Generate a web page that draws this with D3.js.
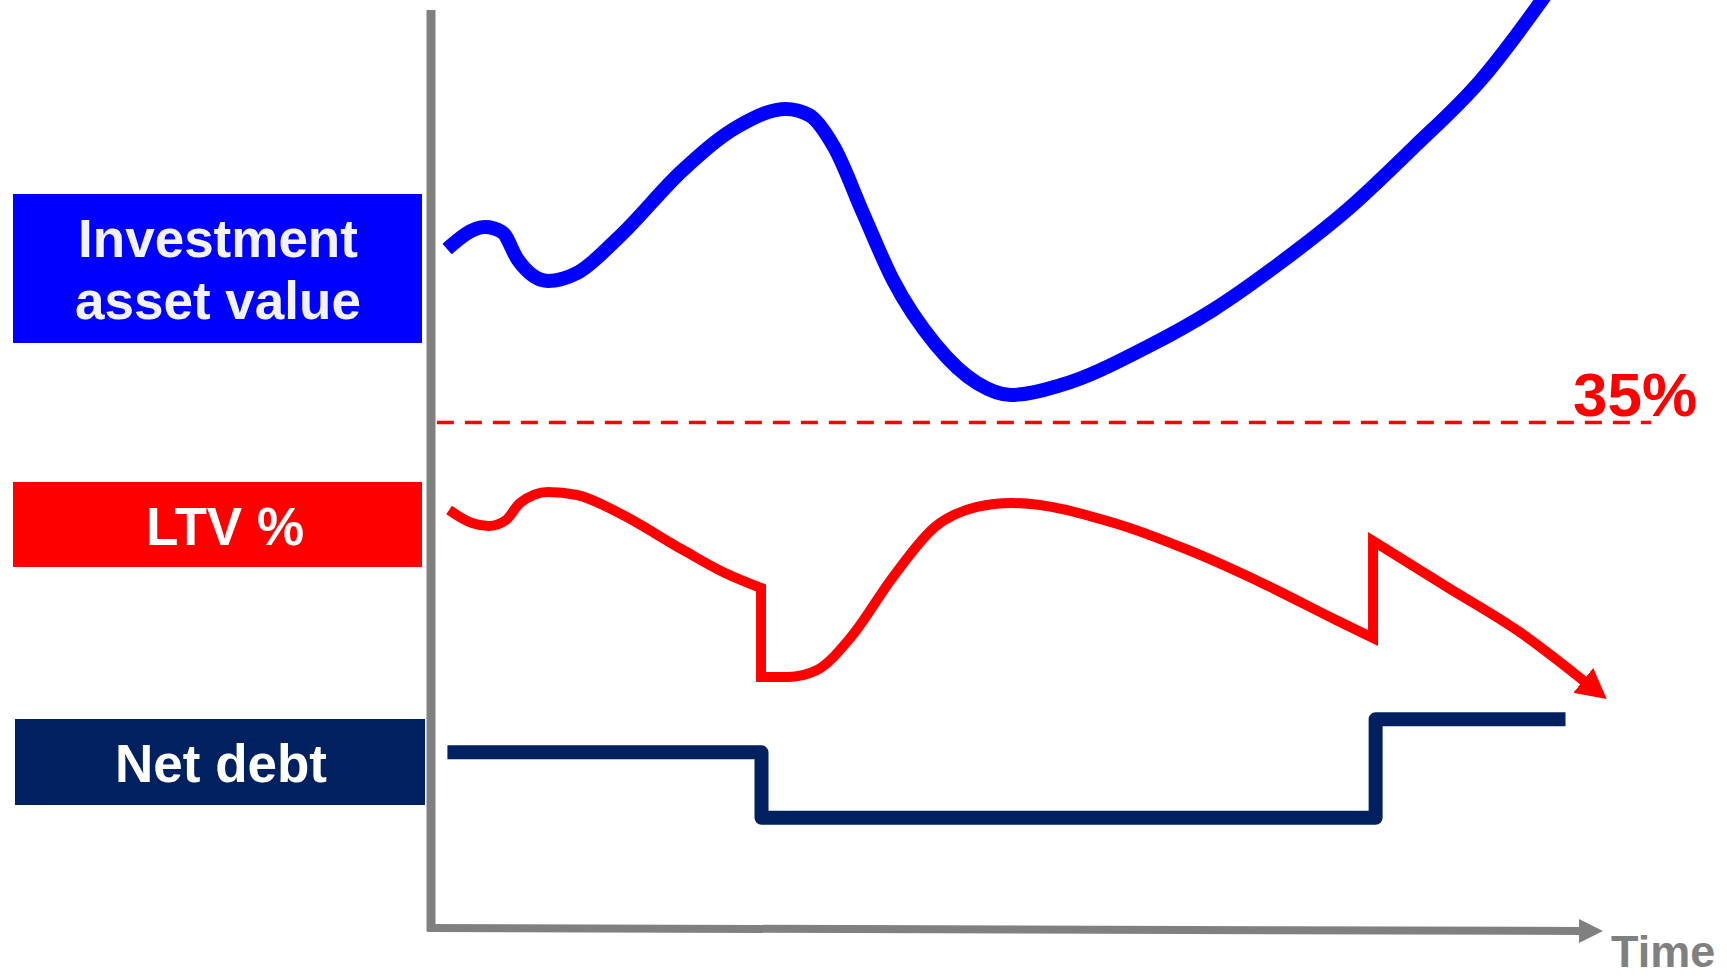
<!DOCTYPE html>
<html>
<head>
<meta charset="utf-8">
<script src="https://cdn.jsdelivr.net/npm/d3@7"></script>
<style>
  body { margin: 0; background: #fff; }
  text { font-family: "Liberation Sans", Arial, sans-serif; font-weight: bold; }
</style>
</head>
<body>
<div id="chart"></div>
<script>
// time runs 0..100 along the axis, values 0..100 up the axis
const assetT = [1.37, 4.61, 6.06, 7.42, 9.98, 12.46, 16.04, 21.50, 26.11, 30.29, 32.25, 34.39, 36.86, 39.42, 43.09, 46.59, 49.49, 53.75, 61.09, 66.72, 72.44, 78.16, 83.79, 89.51, 94.80, 97.18];
const assetV = [74.05, 76.44, 75.90, 72.86, 70.58, 71.44, 75.35, 82.63, 87.30, 89.25, 88.60, 85.12, 77.96, 70.68, 63.63, 59.50, 58.20, 59.28, 63.41, 67.43, 72.53, 78.28, 85.02, 92.29, 101.09, 105.43];

// LTV % in three pieces, the jumps between them are straight verticals
const ltvT1 = [1.54, 3.50, 4.95, 6.40, 7.59, 9.98, 12.46, 16.04, 21.50, 25.09, 28.16];
const ltvV1 = [45.71, 44.30, 43.97, 44.63, 46.47, 47.67, 47.34, 45.39, 41.37, 38.87, 37.24];
const ltvT2 = [28.16, 30.46, 32.94, 35.84, 39.42, 43.00, 46.59, 49.49, 58.28, 64.59, 70.90, 77.22, 80.38];
const ltvV2 = [27.58, 27.58, 28.34, 31.92, 38.44, 43.87, 46.04, 46.47, 44.30, 41.37, 37.79, 33.77, 31.81];
const ltvT3 = [80.38, 86.69, 93.00, 98.38];
const ltvV3 = [42.35, 37.35, 32.36, 27.14];

// net debt steps
const debtT = [1.4, 28.2, 80.6, 96.8];
const debtV = [19.4, 12.3, 23.0, 23.0];

const limitLevel = 55.2;
const limitLabel = "35%";
const labels = ["Investment asset value", "LTV %", "Net debt"];

const width = 1727, height = 976;

const svg = d3.select("#chart").append("svg")
  .attr("width", width)
  .attr("height", height);

const x = d3.scaleLinear().domain([0, 100]).range([431, 1603]);
const y = d3.scaleLinear().domain([0, 100]).range([931, 10]);

const zip = (ts, vs) => ts.map((t, i) => [t, vs[i]]);

const smooth = d3.line()
  .x(d => x(d[0]))
  .y(d => y(d[1]))
  .curve(d3.curveMonotoneX);

// arrow head for the LTV line
svg.append("defs").append("marker")
  .attr("id", "ltvArrow")
  .attr("markerUnits", "userSpaceOnUse")
  .attr("viewBox", "0 -16 30 32")
  .attr("refX", 1)
  .attr("refY", 0)
  .attr("markerWidth", 30)
  .attr("markerHeight", 32)
  .attr("orient", "auto")
  .append("path")
  .attr("d", "M0,-16L30,0L0,16Z")
  .attr("fill", "#ff0000");

// axes
svg.append("line")
  .attr("x1", x(0)).attr("y1", y(100))
  .attr("x2", x(0)).attr("y2", y(0))
  .attr("stroke", "#808080").attr("stroke-width", 9);
svg.append("line")
  .attr("x1", x(0) - 4).attr("y1", y(0) - 3)
  .attr("x2", x(100) - 22).attr("y2", y(0))
  .attr("stroke", "#808080").attr("stroke-width", 8);
svg.append("path")
  .attr("d", `M${x(100) - 24},${y(0) - 12}L${x(100)},${y(0)}L${x(100) - 24},${y(0) + 12}Z`)
  .attr("fill", "#808080");
svg.append("text")
  .attr("x", 1611).attr("y", 967)
  .attr("font-size", 45)
  .attr("fill", "#808080")
  .text("Time");

// 35% limit
svg.append("line")
  .attr("x1", x(0.5)).attr("x2", x(104.1))
  .attr("y1", y(limitLevel)).attr("y2", y(limitLevel))
  .attr("stroke", "#ff0000")
  .attr("stroke-width", 3.5)
  .attr("stroke-dasharray", "17,11");
svg.append("text")
  .attr("x", 1573).attr("y", 416)
  .attr("font-size", 62)
  .attr("fill", "#ff0000")
  .text(limitLabel);

// investment asset value
svg.append("path")
  .attr("d", smooth(zip(assetT, assetV)))
  .attr("fill", "none")
  .attr("stroke", "#0000ff")
  .attr("stroke-width", 14);

// LTV: join the smooth pieces into one path
const ltvPieces = [zip(ltvT1, ltvV1), zip(ltvT2, ltvV2), zip(ltvT3, ltvV3)];
const ltvD = ltvPieces.map((p, i) => {
  const d = smooth(p);
  return i ? d.replace(/^M/, "L") : d;
}).join("");
svg.append("path")
  .attr("d", ltvD)
  .attr("fill", "none")
  .attr("stroke", "#ff0000")
  .attr("stroke-width", 10)
  .attr("stroke-linejoin", "miter")
  .attr("marker-end", "url(#ltvArrow)");

// net debt
svg.append("path")
  .attr("d", d3.line().x(d => x(d[0])).y(d => y(d[1])).curve(d3.curveStepAfter)(zip(debtT, debtV)))
  .attr("fill", "none")
  .attr("stroke", "#002060")
  .attr("stroke-width", 14)
  .attr("stroke-linejoin", "round");

// label boxes on the left
const boxes = [
  { x: 13, y: 194, w: 409, h: 149, fill: "#0000ff", color: "#f2f2f2", lines: ["Investment", "asset value"], base: 257, cx: 218 },
  { x: 13, y: 482, w: 409, h: 85, fill: "#ff0000", color: "#ffffff", lines: [labels[1]], base: 545, cx: 225 },
  { x: 15, y: 719, w: 410, h: 86, fill: "#002060", color: "#ffffff", lines: [labels[2]], base: 782, cx: 221 }
];
const g = svg.selectAll("g.label")
  .data(boxes)
  .enter().append("g")
  .attr("class", "label");
g.append("rect")
  .attr("x", d => d.x).attr("y", d => d.y)
  .attr("width", d => d.w).attr("height", d => d.h)
  .attr("fill", d => d.fill);
g.each(function(d) {
  d3.select(this).selectAll("text")
    .data(d.lines)
    .enter().append("text")
    .attr("x", d.cx)
    .attr("y", (t, i) => d.base + i * 62)
    .attr("text-anchor", "middle")
    .attr("font-size", 53)
    .attr("fill", d.color)
    .text(t => t);
});
</script>
</body>
</html>
